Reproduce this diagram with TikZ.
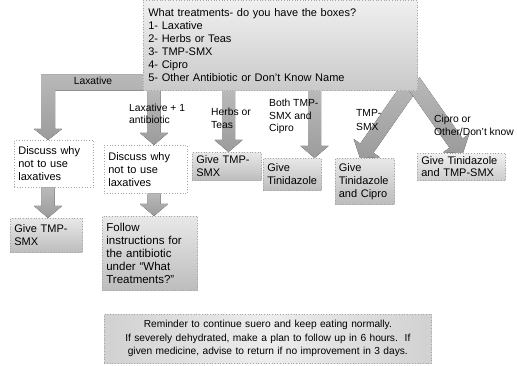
\documentclass[tikz,border=0pt]{standalone}
\usepackage{fontspec}
\setmainfont{Liberation Sans}
\usetikzlibrary{calc,backgrounds}

% block arrow from #3 (tail) to #4 (tip); #1 = shaft half width, #2 = head half width
\newcommand\blkarrow[4][6.5pt]{%
  \coordinate (ba-b) at ($(#4)!12pt!(#3)$);
  \fill[arrowbody]
    ($(#3)!#1!90:(#4)$) -- ($(ba-b)!#1!90:(#4)$) -- ($(ba-b)!#2!90:(#4)$)
    -- (#4)
    -- ($(ba-b)!#2!-90:(#4)$) -- ($(ba-b)!#1!-90:(#4)$) -- ($(#3)!#1!-90:(#4)$)
    -- cycle;}

\tikzset{
  panel/.style={draw=gray!70, dotted, line width=0.7pt, anchor=north west,
    inner xsep=4pt, inner ysep=1pt, align=left, text=black,
    font=\fontsize{11}{13}\selectfont},
  whitepanel/.style={panel, fill=white},
  graypanel/.style={panel, top color=gray!18, bottom color=gray!52},
  lbl/.style={anchor=north west, inner sep=0pt, align=left, text=black,
    font=\fontsize{10.3}{12.6}\selectfont},
  arrowbody/.style={top color=gray!55, bottom color=gray!78},
}

\begin{document}
\begin{tikzpicture}[x=1pt, y=-1pt]
\useasboundingbox (0,0) rectangle (517,366);

% question box
\node[panel, top color=gray!12, bottom color=gray!42, minimum width=274, minimum height=90,
      text width=264, inner xsep=5pt] (q) at (143,0)
  {What treatments- do you have the boxes?\\1- Laxative\\2- Herbs or Teas\\3- TMP-SMX\\4- Cipro\\5- Other Antibiotic or Don't Know Name};

% outcome boxes
\node[whitepanel, minimum width=79, minimum height=47, text width=71] (d1) at (14,140)
  {Discuss why\\not to use\\laxatives};
\node[whitepanel, minimum width=83, minimum height=48, text width=75] (d2) at (104,145)
  {Discuss why\\not to use\\laxatives};
\node[graypanel, minimum width=72, minimum height=34, text width=64] (g1) at (10,218)
  {Give TMP-\\SMX};
\node[graypanel, minimum width=95, minimum height=74, text width=87,
      font=\fontsize{11.5}{13}\selectfont] (f) at (102,216)
  {Follow\\instructions for\\the antibiotic\\under ``What\\Treatments?''};
\node[graypanel, minimum width=69, minimum height=28, text width=61] (g2) at (192,152)
  {Give TMP-\\SMX};
\node[graypanel, minimum width=58, minimum height=32, text width=50] (tz) at (263,158)
  {Give\\Tinidazole};
\node[graypanel, minimum width=59, minimum height=46, text width=52, inner xsep=3.5pt] (tc) at (335,158)
  {Give\\Tinidazole\\and Cipro};
\node[graypanel, top color=gray!12, bottom color=gray!40, minimum width=88, minimum height=27,
      text width=80, font=\fontsize{11}{12}\selectfont] (tt) at (417,153)
  {Give Tinidazole\\and TMP-SMX};

% reminder
\node[panel, left color=gray!36, right color=gray!36, middle color=gray!14,
      minimum width=327, minimum height=49, text width=319, align=center,
      font=\fontsize{10.2}{13.5}\selectfont] (rem) at (104,314)
  {Reminder to continue suero and keep eating normally.\\If severely dehydrated, make a plan to follow up in 6 hours.\ \ If\\given medicine, advise to return if no improvement in 3 days.};

% arrow columns
\coordinate (lxl) at (41,0);
\coordinate (lxc) at (48,0);
\coordinate (lxr) at (55,0);
\coordinate (lhl) at (34,0);
\coordinate (lhr) at (62,0);
\coordinate (ax1) at (154,0);
\coordinate (ax2) at (228.5,0);
\coordinate (ax3) at (314.5,0);
\coordinate (apex) at (413,82);

\begin{pgfonlayer}{background}
  % bent arrow for laxatives
  \coordinate (bandtop) at ([yshift=16pt]q.south west);
  \coordinate (lxtip) at (d1.north -| lxc);
  \coordinate (hb) at ($(lxtip)+(0,-11)$);
  \fill[arrowbody] (bandtop) -- (bandtop -| lxl) -- (hb -| lxl) -- (hb -| lhl)
    -- (lxtip) -- (hb -| lhr) -- (hb -| lxr) -- (q.south west -| lxr)
    -- (q.south west) -- cycle;
  \blkarrow{14pt}{d1.south -| lxc}{g1.north -| lxc}
  \blkarrow{14pt}{q.south -| ax1}{d2.north -| ax1}
  \blkarrow{14pt}{d2.south -| ax1}{f.north -| ax1}
  \blkarrow{14pt}{q.south -| ax2}{g2.north -| ax2}
  \blkarrow{14pt}{q.south -| ax3}{tz.north -| ax3}
  \blkarrow[8pt]{16pt}{apex}{$(tc.north west)+(25,0)$}
  \blkarrow[8pt]{16pt}{apex}{$(tt.north west)+(46,0)$}
\end{pgfonlayer}

% branch labels
\node[lbl, anchor=center] (llax) at (93,81) {Laxative};
\node[lbl] (l1) at (129,103.5) {Laxative + 1\\antibiotic};
\node[lbl] (l2) at (211,108) {Herbs or\\Teas};
\node[lbl] (l3) at (269,99) {Both TMP-\\SMX and\\Cipro};
\node[lbl, font=\fontsize{10.3}{14.5}\selectfont] (l4) at (356,109) {TMP-\\SMX};
\node[lbl] (l5) at (434,115) {Cipro or\\Other/Don't know};
\end{tikzpicture}
\end{document}
